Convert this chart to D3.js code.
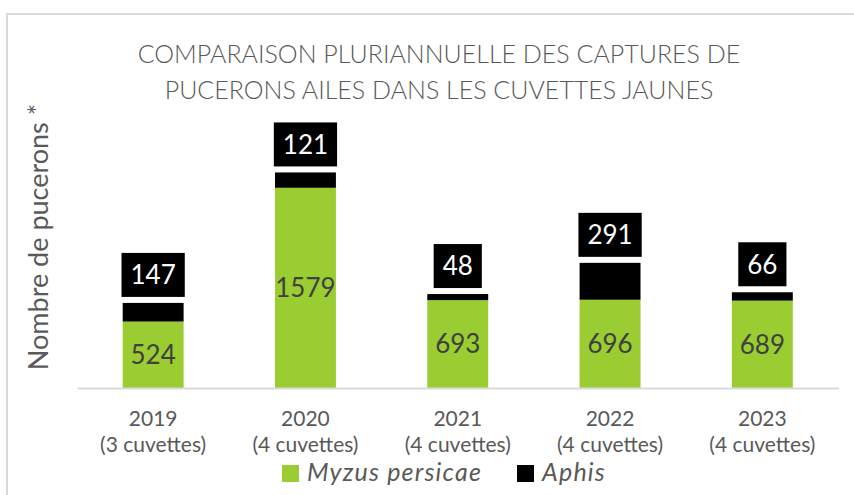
<!DOCTYPE html>
<html>
<head>
<meta charset="utf-8">
<script src="https://cdn.jsdelivr.net/npm/d3@7"></script>
<style>
  body { margin: 0; background: #fff; }
  svg { display: block; font-family: Lato, "Open Sans", sans-serif; }
</style>
</head>
<body>
<div id="chart"></div>
<script>
const years = ['2019', '2020', '2021', '2022', '2023'];
const cuvettes = ['(3 cuvettes)', '(4 cuvettes)', '(4 cuvettes)', '(4 cuvettes)', '(4 cuvettes)'];
const myzus = [524, 1579, 693, 696, 689];
const aphis = [147, 121, 48, 291, 66];
const seriesNames = ['Myzus persicae', 'Aphis'];
const titleLines = ['COMPARAISON PLURIANNUELLE DES CAPTURES DE', 'PUCERONS AILES DANS LES CUVETTES JAUNES'];

const W = 854, H = 495;
const GREEN = '#9acd32', BLACK = '#000000', GREY = '#595959';

const svg = d3.select('#chart').append('svg')
    .attr('width', W)
    .attr('height', H);

// chart frame (right / bottom edges fall outside the picture)
svg.append('rect')
    .attr('x', 7).attr('y', 14)
    .attr('width', W + 20).attr('height', H + 20)
    .attr('fill', 'white')
    .attr('stroke', '#d9d9d9')
    .attr('stroke-width', 2);

const rows = years.map((y, i) => ({ year: y, myzus: myzus[i], aphis: aphis[i], sub: cuvettes[i] }));
const stacked = d3.stack().keys(['myzus', 'aphis'])(rows);

const x = d3.scaleBand().domain(years).range([77, 838.5]).paddingInner(0.6).paddingOuter(0.3);
const y = d3.scaleLinear().domain([0, 2000]).range([388, 134.4]);

// title
svg.append('g').selectAll('text')
    .data(titleLines)
    .join('text')
    .attr('x', 439)
    .attr('y', (d, i) => 63 + i * 36)
    .attr('text-anchor', 'middle')
    .attr('font-size', 25)
    .attr('font-weight', 300)
    .attr('fill', GREY)
    .text(d => d);

// y axis title
svg.append('text')
    .attr('transform', 'translate(48,237) rotate(-90)')
    .attr('text-anchor', 'middle')
    .attr('font-size', 27)
    .attr('fill', GREY)
    .text('Nombre de pucerons *');

// bars
const colors = { myzus: GREEN, aphis: BLACK };
svg.append('g').selectAll('g')
    .data(stacked)
    .join('g')
    .attr('fill', d => colors[d.key])
    .selectAll('rect')
    .data(d => d)
    .join('rect')
    .attr('x', d => x(d.data.year))
    .attr('width', x.bandwidth())
    .attr('y', d => y(d[1]))
    .attr('height', d => y(d[0]) - y(d[1]));

// x axis
const xAxis = svg.append('g')
    .attr('transform', 'translate(0,388)')
    .call(d3.axisBottom(x).tickSize(0).tickFormat(''));
xAxis.select('.domain').attr('stroke', '#d9d9d9').attr('stroke-width', 2);

const tickText = svg.append('g').selectAll('text')
    .data(rows)
    .join('text')
    .attr('text-anchor', 'middle')
    .attr('font-size', 21)
    .attr('fill', GREY);
tickText.append('tspan').attr('x', d => x(d.year) + x.bandwidth() / 2).attr('y', 426).text(d => d.year);
tickText.append('tspan').attr('x', d => x(d.year) + x.bandwidth() / 2).attr('y', 452).text(d => d.sub);

// green labels, centred in segment
svg.append('g').selectAll('text')
    .data(stacked[0])
    .join('text')
    .attr('x', d => x(d.data.year) + x.bandwidth() / 2)
    .attr('y', d => (y(d[0]) + y(d[1])) / 2)
    .attr('dy', '0.36em')
    .attr('text-anchor', 'middle')
    .attr('font-size', 26)
    .attr('fill', '#404040')
    .text(d => d.data.myzus);

// black boxed labels above the bars
const tags = svg.append('g').selectAll('g')
    .data(stacked[1])
    .join('g');
tags.append('text')
    .attr('x', d => x(d.data.year) + x.bandwidth() / 2)
    .attr('y', d => y(d[1]) - 6 - 22)
    .attr('dy', '0.36em')
    .attr('text-anchor', 'middle')
    .attr('font-size', 26)
    .attr('fill', 'white')
    .text(d => d.data.aphis);
tags.each(function (d) {
    const g = d3.select(this);
    const w = g.select('text').node().getComputedTextLength() + 18;
    g.insert('rect', 'text')
        .attr('x', x(d.data.year) + x.bandwidth() / 2 - w / 2)
        .attr('y', y(d[1]) - 6 - 44)
        .attr('width', w)
        .attr('height', 44)
        .attr('fill', BLACK);
});

// legend
const legend = svg.append('g').attr('transform', 'translate(282,465)');
const legendX = [0, 235];
seriesNames.forEach((name, i) => {
    const lg = legend.append('g').attr('transform', `translate(${legendX[i]},0)`);
    lg.append('rect').attr('width', 17).attr('height', 17).attr('fill', i === 0 ? GREEN : BLACK);
    lg.append('text')
        .attr('x', 25).attr('y', 16)
        .attr('font-size', 25)
        .attr('letter-spacing', 1.2)
        .attr('font-style', 'italic')
        .attr('fill', GREY)
        .text(name);
});
</script>
</body>
</html>
